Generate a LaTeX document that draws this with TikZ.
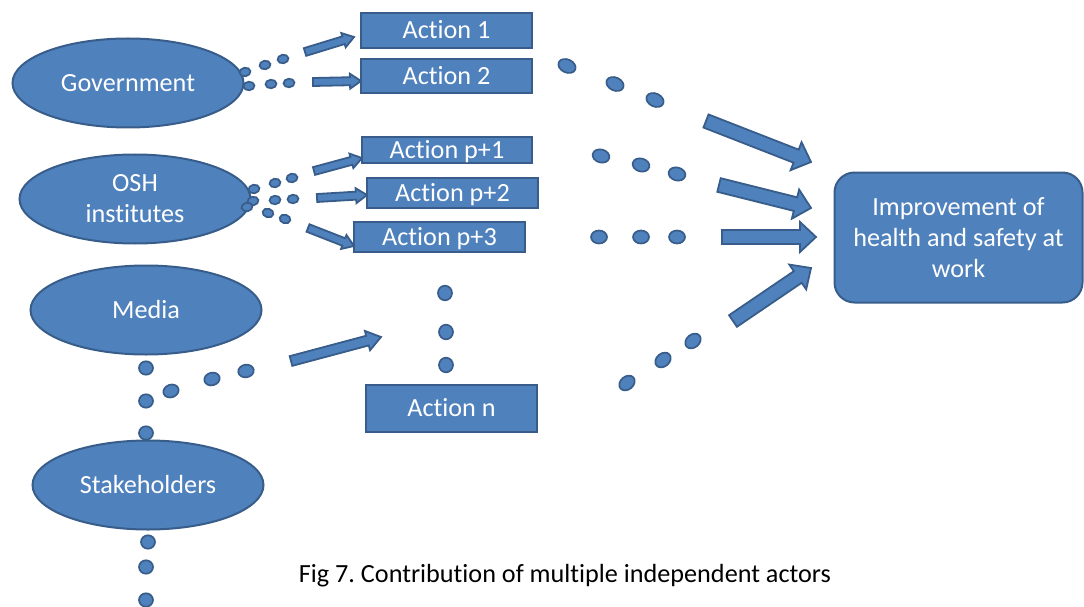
\documentclass[tikz,border=0pt]{standalone}
\usepackage{fontspec}
\setmainfont{Carlito}[Ligatures=NoCommon]
\frenchspacing
\usetikzlibrary{shapes.geometric,calc}
\definecolor{blfill}{HTML}{4F81BD}
\definecolor{blline}{HTML}{385D8A}

\tikzset{
  labelfont/.style={font=\fontsize{26.2}{31}\selectfont},
  actor/.style={ellipse, draw=blline, fill=blfill, line width=2pt,
    minimum width=231pt, minimum height=89pt, inner sep=0pt,
    text=white, labelfont, align=center},
  actbox/.style={rectangle, draw=blline, fill=blfill, line width=2pt,
    inner sep=0pt, text=white, labelfont, text height=16.8pt, text depth=0pt},
  goal/.style={rectangle, rounded corners=20pt, draw=blline, fill=blfill,
    line width=2pt, minimum width=248pt, minimum height=130pt, inner sep=0pt,
    text=white, labelfont, align=center},
  dotmark/.style={draw=blline, fill=blfill, line width=1.7pt},
  blockarr/.style={draw=blline, fill=blfill, line width=1.8pt, line join=miter},
}

% block arrow: tail, tip, half shaft width, half head width, head length
\newcommand\fatarrow[5]{%
  \path ($(#2)!#5!(#1)$) coordinate (hb);
  \draw[blockarr] ($(#1)!#3!90:(#2)$) -- ($(hb)!#3!90:(#2)$)
    -- ($(hb)!#4!90:(#2)$) -- (#2) -- ($(hb)!#4!-90:(#2)$)
    -- ($(hb)!#3!-90:(#2)$) -- ($(#1)!#3!-90:(#2)$) -- cycle;
}
% small oval dot: centre, x radius, y radius, tilt
\newcommand\ovaldot[4]{%
  \draw[dotmark, rotate around={#4:(#1)}] (#1) ellipse [x radius=#2, y radius=#3];
}

\begin{document}
\begin{tikzpicture}[x=1pt, y=-1pt]
\useasboundingbox (0,0) rectangle (1084,607);

% actors
\node[actor, text height=16.8pt, text depth=0pt] (gov) at (128,83) {Government};
\node[actor] (osh) at (135,199) {OSH\\institutes};
\node[actor, text height=16.8pt, text depth=0pt] (media) at (146,310) {Media};
\node[actor, text height=16.8pt, text depth=0pt] (stake) at (148,485) {Stakeholders};

% actions
\node[actbox, minimum width=171pt, minimum height=35pt] (a1) at (446.5,30.5) {Action 1};
\node[actbox, minimum width=171pt, minimum height=34pt] (a2) at (446.5,76) {Action 2};
\node[actbox, minimum width=170pt, minimum height=26pt] (ap1) at (447,150) {Action p+1};
\node[actbox, minimum width=171pt, minimum height=30pt] (ap2) at (452.5,193) {Action p+2};
\node[actbox, minimum width=171pt, minimum height=30pt] (ap3) at (439.5,237) {Action p+3};
\node[actbox, minimum width=171pt, minimum height=47pt] (an) at (451.5,408.5) {Action n};

% outcome
\node[goal] (goalbox) at (958.5,237.5) {Improvement of\\health and safety at\\work};

% caption
\node[font=\fontsize{26.2}{31}\selectfont, text height=16.8pt, text depth=0pt, inner sep=0pt]
  (cap) at (565,574) {Fig 7. Contribution of multiple independent actors};

% arrow end points
\coordinate (g1t) at (305,52);  \coordinate (g1h) at (354,37);
\coordinate (g2t) at (313,82);  \coordinate (g2h) at (361,81);
\coordinate (o1t) at (314,171); \coordinate (o1h) at (362,158);
\coordinate (o2t) at (317,198); \coordinate (o2h) at (367,195);
\coordinate (o3t) at (308,228); \coordinate (o3h) at (354,246);
\coordinate (mt)  at (291,361); \coordinate (mh)  at (381,337);
\coordinate (r1t) at (706,121); \coordinate (r1h) at (811,162);
\coordinate (r2t) at (719,185); \coordinate (r2h) at (811,208);
\coordinate (r3t) at (722,237); \coordinate (r3h) at (816,237);
\coordinate (r4t) at (733,321); \coordinate (r4h) at (811,268);

% small arrows
\fatarrow{g1t}{g1h}{4pt}{7.5pt}{11pt}
\fatarrow{g2t}{g2h}{4pt}{7.5pt}{11pt}
\fatarrow{o1t}{o1h}{4pt}{7.5pt}{11pt}
\fatarrow{o2t}{o2h}{4pt}{7.5pt}{11pt}
\fatarrow{o3t}{o3h}{4pt}{7.5pt}{11pt}
\fatarrow{mt}{mh}{5pt}{10pt}{14pt}

% large arrows
\fatarrow{r1t}{r1h}{7pt}{15pt}{16pt}
\fatarrow{r2t}{r2h}{7pt}{15pt}{16pt}
\fatarrow{r3t}{r3h}{7pt}{15pt}{16pt}
\fatarrow{r4t}{r4h}{7pt}{15pt}{16pt}

% dots next to Government
\ovaldot{245,72}{5.5}{4.3}{10}
\ovaldot{265,65}{5.5}{4.3}{10}
\ovaldot{283,59}{5.5}{4.3}{10}
\ovaldot{249,86}{5.5}{4.3}{5}
\ovaldot{271,84}{5.5}{4.3}{5}
\ovaldot{289,83}{5.5}{4.3}{5}

% dots next to OSH institutes
\ovaldot{254,189}{5.5}{4.3}{10}
\ovaldot{253,201}{5.5}{4.3}{10}
\ovaldot{247,207}{5.5}{4.3}{10}
\ovaldot{275,183}{5.5}{4.3}{10}
\ovaldot{292,178}{5.5}{4.3}{10}
\ovaldot{275,200}{5.5}{4.3}{5}
\ovaldot{293,199}{5.5}{4.3}{5}
\ovaldot{268,213}{5.5}{4.3}{-15}
\ovaldot{285,219}{5.5}{4.3}{-15}

% dots below Media
\ovaldot{146,368}{7}{6.7}{0}
\ovaldot{146,401}{7}{6.7}{0}
\ovaldot{146,433}{7}{6.7}{0}
\ovaldot{171,391}{7.8}{6.3}{20}
\ovaldot{212,379}{7.8}{6.3}{15}
\ovaldot{246,371}{7.8}{6.3}{10}

% dots below Stakeholders
\ovaldot{148,542}{7}{6.7}{0}
\ovaldot{146,567}{7}{6.7}{0}
\ovaldot{146,600}{7}{6.7}{0}

% dots above Action n
\ovaldot{445,293}{7}{7.3}{0}
\ovaldot{446,332}{7}{7.3}{0}
\ovaldot{446,365}{7}{7.3}{0}

% dots right of the actions
\ovaldot{567,66}{9}{6.5}{-25}
\ovaldot{615,84}{9}{6.5}{-25}
\ovaldot{655,100}{9}{6.5}{-25}
\ovaldot{601,156}{8.5}{6.5}{-15}
\ovaldot{641,165}{8.5}{6.5}{-15}
\ovaldot{677,174}{8.5}{6.5}{-15}
\ovaldot{599,237}{8}{6.5}{0}
\ovaldot{641,237}{8}{6.5}{0}
\ovaldot{677,237}{8}{6.5}{0}
\ovaldot{627,383}{8.5}{6.5}{40}
\ovaldot{663,360}{8.5}{6.5}{40}
\ovaldot{693,341}{8.5}{6.5}{40}
\end{tikzpicture}
\end{document}
